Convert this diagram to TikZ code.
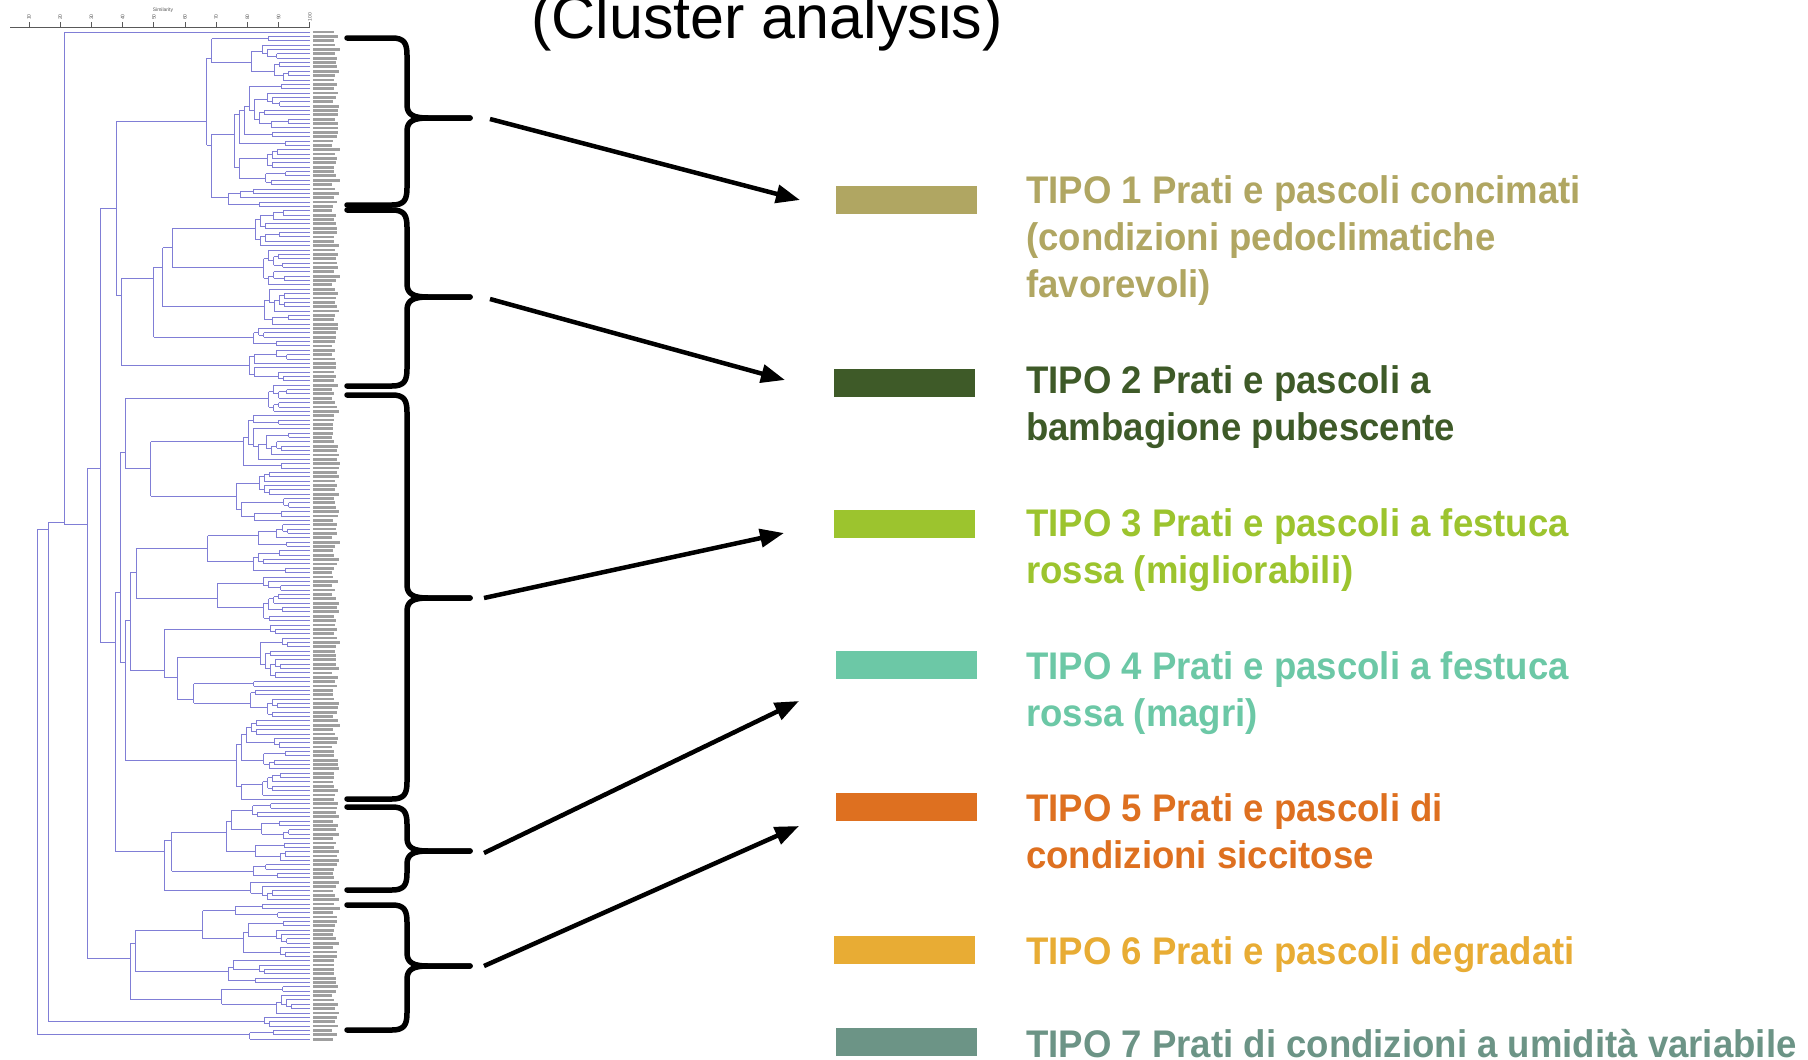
\documentclass[tikz,border=0pt]{standalone}
\usepackage{fontspec}
\setmainfont{Liberation Sans}
\newfontfamily\legfont{Liberation Sans}[FakeStretch=0.95]
\usetikzlibrary{arrows.meta}

\definecolor{dline}{RGB}{128,126,214}
\definecolor{tipoA}{RGB}{176,166,98}
\definecolor{tipoB}{RGB}{62,90,40}
\definecolor{tipoC}{RGB}{156,196,46}
\definecolor{tipoD}{RGB}{108,200,166}
\definecolor{tipoE}{RGB}{222,112,32}
\definecolor{tipoF}{RGB}{232,172,52}
\definecolor{tipoG}{RGB}{108,148,134}

% -- one leaf of the dendrogram: index, parent x --
\newcommand\dleaf[2]{%
  \pgfmathsetmacro\dy{32+(#1-1)*4.36}%
  \pgfmathsetmacro\dl{332+8*rnd}%
  \draw[dlink] (#2,\dy) -- (310,\dy);
  \draw[samplab] (313,\dy) -- (\dl,\dy);
}
% -- one join: first, last, parent x, join x, split --
\newcommand\djoin[5]{%
  \pgfmathsetmacro\dym{32+((#1+#2)/2-1)*4.36}%
  \pgfmathsetmacro\dya{32+((#1+#5)/2-1)*4.36}%
  \pgfmathsetmacro\dyb{32+((#5+1+#2)/2-1)*4.36}%
  \draw[dlink] (#3,\dym) -- (#4,\dym);
  \draw[dlink] (#4,\dya) -- (#4,\dyb);
}
% -- a whole sub-cluster: first, last, parent x --
\newcommand\dendro[3]{%
  \ifnum#1=#2\relax
    \def\dnext{\dleaf{#1}{#3}}%
  \else
    \def\dnext{\dsplit{#1}{#2}{#3}}%
  \fi
  \dnext}
\newcommand\dsplit[3]{%
  \pgfmathsetmacro\dxc{max(#3+5,min(298,310-30*sqrt(#2-#1+1)*(0.5+1.0*rnd)))}%
  \pgfmathtruncatemacro\dsp{#1+floor((#2-#1)*(0.12+0.76*rnd))}%
  \djoin{#1}{#2}{#3}{\dxc}{\dsp}%
  \edef\dnext{\noexpand\dendro{#1}{\dsp}{\dxc}\noexpand\dendro{\the\numexpr\dsp+1\relax}{#2}{\dxc}}%
  \dnext}
% -- curly bracket: tip name, top, tip, bottom --
\newcommand\clusterbrace[4]{%
  \draw[brace] (347,#2) -- (392,#2) .. controls (404,#2) and (407,#2+5) .. (407,#2+17)
    -- (407,#3-13) .. controls (407,#3-3) and (414,#3) .. (428,#3) -- (470,#3) coordinate (#1);
  \draw[brace] (#1) -- (428,#3) .. controls (414,#3) and (407,#3+3) .. (407,#3+13)
    -- (407,#4-17) .. controls (407,#4-5) and (404,#4) .. (392,#4) -- (347,#4);
}

\begin{document}
\begin{tikzpicture}[x=1pt,y=-1pt,
  dlink/.style={draw=dline, line width=0.9pt},
  samplab/.style={draw=gray!75, line width=2.8pt},
  axisline/.style={draw=gray!70!black, line width=0.8pt},
  ticklab/.style={font=\fontsize{5}{6}\selectfont, text=gray!70!black, inner sep=0pt},
  brace/.style={draw=black, line width=5.5pt, line cap=round, line join=round},
  pointer/.style={draw=black, line width=4.5pt, -{Triangle[length=24pt,width=18pt]}},
  swatch/.style={rectangle, minimum width=141pt, minimum height=28pt, inner sep=0pt},
  legtext/.style={anchor=base west, align=left, inner sep=0pt,
    font=\legfont\bfseries\fontsize{38.5}{47}\selectfont}]

  \useasboundingbox (0,0) rectangle (1808,1060);
  \fill[white] (0,0) rectangle (1808,1060);

  % -- Title --
  \node[font=\fontsize{61}{72}\selectfont, anchor=base] (title) at (767,38) {(Cluster analysis)};

  % -- Similarity axis --
  \node[ticklab] (simil) at (163,10) {Similarity};
  \draw[axisline] (10,27) -- (310,27);
  \foreach \k [evaluate=\k as \tx using 29+31.2*\k,
               evaluate=\k as \tv using int(10*(\k+1))] in {0,...,9} {
    \draw[axisline] (\tx,27) -- (\tx,22);
    \node[ticklab, rotate=90] (tl\k) at (\tx,17) {\tv};
  }

  % -- Dendrogram (top levels by hand, the rest generated) --
  \pgfmathsetseed{11}
  \djoin{1}{232}{37}{37}{229}
  \dendro{230}{232}{37}
  \djoin{1}{229}{37}{48}{226}
  \dendro{227}{229}{48}
  \djoin{1}{226}{48}{64}{1}
  \dleaf{1}{64}
  \djoin{2}{226}{64}{87}{200}
  \dendro{201}{226}{87}
  \djoin{2}{200}{87}{100}{81}
  \djoin{2}{81}{100}{116}{41}
  \dendro{2}{41}{116}
  \dendro{42}{81}{116}
  \djoin{82}{200}{100}{115}{177}
  \dendro{82}{177}{115}
  \dendro{178}{200}{115}

  % -- Brackets round the clusters --
  \clusterbrace{b1}{38}{118}{205}
  \clusterbrace{b2}{210}{297}{386}
  \clusterbrace{b3}{395}{598}{799}
  \clusterbrace{b4}{807}{851}{890}
  \clusterbrace{b5}{905}{966}{1030}

  % -- Legend --
  \node[swatch, fill=tipoA] (sw1) at (906.5,200) {};
  \node[swatch, fill=tipoB] (sw2) at (904,383) {};
  \node[swatch, fill=tipoC] (sw3) at (904,523.5) {};
  \node[swatch, fill=tipoD] (sw4) at (906.5,665) {};
  \node[swatch, fill=tipoE] (sw5) at (906.5,807) {};
  \node[swatch, fill=tipoF] (sw6) at (904,950) {};
  \node[swatch, fill=tipoG] (sw7) at (906.5,1042) {};

  % base of a wrapped text is its last line
  \node[legtext, text=tipoA] (t1) at (1026,297) {TIPO 1 Prati e pascoli concimati\\(condizioni pedoclimatiche\\favorevoli)};
  \node[legtext, text=tipoB] (t2) at (1026,440) {TIPO 2 Prati e pascoli a\\bambagione pubescente};
  \node[legtext, text=tipoC] (t3) at (1026,583) {TIPO 3 Prati e pascoli a festuca\\rossa (migliorabili)};
  \node[legtext, text=tipoD] (t4) at (1026,726) {TIPO 4 Prati e pascoli a festuca\\rossa (magri)};
  \node[legtext, text=tipoE] (t5) at (1026,868) {TIPO 5 Prati e pascoli di\\condizioni siccitose};
  \node[legtext, text=tipoF] (t6) at (1026,964) {TIPO 6 Prati e pascoli degradati};
  \node[legtext, text=tipoG] (t7) at (1026,1057) {TIPO 7 Prati di condizioni a umidità variabile};

  % -- Arrows from the brackets to the types --
  \coordinate (s1) at (490,119);  \coordinate (e1) at (800,200);
  \coordinate (s2) at (490,299);  \coordinate (e2) at (785,380);
  \coordinate (s3) at (484,598);  \coordinate (e3) at (784,533);
  \coordinate (s4) at (484,853);  \coordinate (e4) at (799,701);
  \coordinate (s5) at (484,966);  \coordinate (e5) at (799,826);
  \foreach \i in {1,...,5} {
    \draw[pointer] (s\i) -- (e\i);
  }

\end{tikzpicture}
\end{document}
